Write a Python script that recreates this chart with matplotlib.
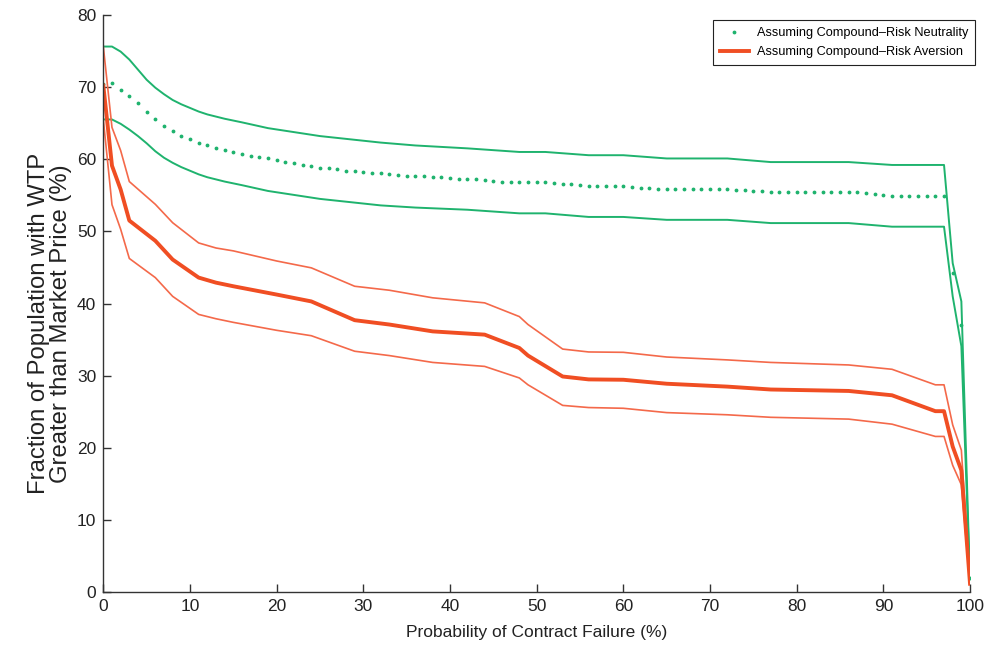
import numpy as np
import matplotlib
matplotlib.use("Agg")
import matplotlib.pyplot as plt

plt.rcParams['font.family'] = ['Liberation Sans', 'DejaVu Sans']

# compound-risk neutrality: mean (dotted), one value per percent
neutral_x = np.arange(0, 101)
neutral_mean = [
    70.4, 70.5, 69.6, 68.7, 67.8, 66.6, 65.6, 64.6, 63.95, 63.25,
    62.8, 62.3, 61.9, 61.55, 61.3, 61.0, 60.75, 60.5, 60.3, 60.1,
    59.86, 59.6, 59.44, 59.2, 59.0, 58.8, 58.75, 58.6, 58.4, 58.3,
    58.25, 58.15, 58.05, 57.9, 57.8, 57.7, 57.7, 57.65, 57.6, 57.5,
    57.4, 57.3, 57.2, 57.2, 57.1, 57.0, 56.9, 56.85, 56.85, 56.85,
    56.85, 56.85, 56.7, 56.6, 56.5, 56.4, 56.35, 56.35, 56.35, 56.35,
    56.25, 56.15, 56.05, 56.0, 55.9, 55.9, 55.9, 55.9, 55.9, 55.9,
    55.9, 55.9, 55.9, 55.8, 55.7, 55.65, 55.55, 55.45, 55.45, 55.45,
    55.45, 55.45, 55.45, 55.45, 55.45, 55.45, 55.45, 55.4, 55.3, 55.15,
    55.05, 54.95, 54.95, 54.95, 54.95, 54.95, 54.95, 54.95, 44.2, 37.1,
    2.0]

# neutrality bounds (solid green)
g_x = [0, 1, 2, 3, 4, 5, 6, 7, 8, 9, 10, 11, 12, 14, 16, 19, 25, 32, 36, 42,
       48, 51, 56, 60, 65, 72, 77, 86, 91, 97, 98, 99, 100]
g_upper = [75.6, 75.6, 74.9, 73.8, 72.4, 71.0, 69.9, 69.0, 68.2, 67.6, 67.1,
           66.6, 66.2, 65.6, 65.1, 64.3, 63.2, 62.3, 61.9, 61.5, 61.0, 61.0,
           60.55, 60.55, 60.1, 60.1, 59.6, 59.6, 59.2, 59.2, 45.6, 40.3, 1.5]
g_lower = [65.5, 65.5, 64.9, 64.1, 63.2, 62.2, 61.1, 60.2, 59.5, 58.9, 58.4,
           57.9, 57.5, 56.9, 56.4, 55.6, 54.5, 53.6, 53.3, 53.0, 52.5, 52.5,
           52.0, 52.0, 51.6, 51.6, 51.15, 51.15, 50.65, 50.65, 41.0, 34.1, 1.5]

# compound-risk aversion (orange)
o_x = [0, 1, 2, 3, 6, 8, 11, 13, 15, 20, 24, 29, 33, 38, 44, 48, 49, 53, 56,
       60, 65, 72, 77, 86, 91, 96, 97, 98, 99, 100]
o_mean = [70.2, 59.1, 55.8, 51.5, 48.7, 46.1, 43.6, 42.9, 42.4, 41.25, 40.3,
          37.7, 37.1, 36.15, 35.7, 33.85, 32.8, 29.9, 29.5, 29.45, 28.9, 28.5,
          28.1, 27.9, 27.3, 25.1, 25.1, 20.2, 16.9, 1.2]
o_upper = [75.6, 64.4, 61.2, 56.9, 53.75, 51.2, 48.4, 47.7, 47.3, 45.9, 44.95,
           42.4, 41.85, 40.8, 40.1, 38.2, 37.1, 33.7, 33.3, 33.25, 32.6, 32.2,
           31.85, 31.5, 30.9, 28.75, 28.75, 23.2, 19.7, 1.2]
o_lower = [65.5, 53.7, 50.3, 46.25, 43.6, 41.0, 38.5, 37.9, 37.4, 36.3, 35.55,
           33.4, 32.8, 31.85, 31.3, 29.7, 28.75, 25.9, 25.6, 25.5, 24.9, 24.6,
           24.25, 24.0, 23.3, 21.6, 21.6, 17.6, 14.9, 1.2]

green = '#1fb36e'
orange = '#f04e23'
orange_thin = '#f4694a'

fig = plt.figure(figsize=(10.05, 6.54), dpi=100)
ax = fig.add_axes([0.1028, 0.0942, 0.8624, 0.8832])

ax.plot(g_x, g_upper, color=green, lw=1.4)
ax.plot(g_x, g_lower, color=green, lw=1.4)
l1, = ax.plot(neutral_x, neutral_mean, color=green, ls='none', marker='.',
              markersize=3.5, label='Assuming Compound\u2013Risk Neutrality')
ax.plot(o_x, o_upper, color=orange_thin, lw=1.2)
ax.plot(o_x, o_lower, color=orange_thin, lw=1.2)
l2, = ax.plot(o_x, o_mean, color=orange, lw=2.8,
              label='Assuming Compound\u2013Risk Aversion')

ax.set_xlim(0, 100)
ax.set_ylim(0, 80)
ax.set_xticks(range(0, 101, 10))
ax.set_yticks(range(0, 81, 10))
for s in ['top', 'right']:
    ax.spines[s].set_visible(False)
for s in ['left', 'bottom']:
    ax.spines[s].set_color('#333333')
    ax.spines[s].set_linewidth(1.0)
ax.tick_params(direction='in', length=6, width=1.0, color='#333333',
               labelsize=12.5, labelcolor='#222222', pad=5)

ax.set_xlabel('Probability of Contract Failure (%)', fontsize=12.5,
              color='#222222', labelpad=8)
ax.set_ylabel('Fraction of Population with WTP\nGreater than Market Price (%)',
              fontsize=17.2, color='#222222', linespacing=1.0)
ax.yaxis.set_label_coords(-0.036, 0.466)

leg = ax.legend(handles=[l1, l2], loc='upper right',
                bbox_to_anchor=(1.006, 0.991), borderaxespad=0,
                fancybox=False, edgecolor='#222222', framealpha=1,
                handlelength=2.3, borderpad=0.55, labelspacing=0.55,
                handletextpad=0.6,
                prop={'family': ['Liberation Sans Narrow', 'Liberation Sans'],
                      'size': 9.2})
leg.get_frame().set_linewidth(0.8)

fig.savefig('out.png', dpi=100)
